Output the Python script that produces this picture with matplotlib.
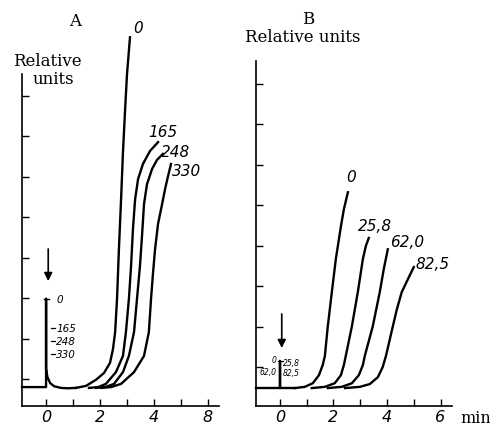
import numpy as np
import matplotlib
matplotlib.use('Agg')
import matplotlib.pyplot as plt

# panel A: curves (time in min, relative units)
a_names = ['0', '165', '248', '330']
a_x = [
    [1.11, 1.48, 1.85, 2.15, 2.37, 2.48, 2.56, 2.63, 2.70, 2.78, 2.85, 2.93, 3.00, 3.11],
    [1.59, 1.93, 2.22, 2.59, 2.85, 2.96, 3.07, 3.15, 3.22, 3.30, 3.41, 3.59, 3.85, 4.15],
    [1.85, 2.19, 2.52, 2.85, 3.07, 3.26, 3.37, 3.48, 3.56, 3.63, 3.74, 3.93, 4.11, 4.33],
    [2.04, 2.41, 2.78, 3.26, 3.63, 3.81, 3.89, 3.96, 4.04, 4.15, 4.30, 4.41, 4.52, 4.63],
]
a_y = [
    [0.78, 0.83, 0.98, 1.15, 1.40, 1.74, 2.16, 2.98, 4.21, 5.44, 6.60, 7.67, 8.53, 9.44],
    [0.78, 0.80, 0.88, 1.17, 1.57, 2.16, 2.98, 3.79, 4.70, 5.44, 5.94, 6.31, 6.63, 6.85],
    [0.78, 0.80, 0.88, 1.17, 1.57, 2.16, 2.98, 3.79, 4.58, 5.32, 5.81, 6.19, 6.41, 6.56],
    [0.78, 0.80, 0.88, 1.17, 1.57, 2.16, 2.98, 3.59, 4.21, 4.83, 5.32, 5.69, 6.01, 6.31],
]
# baseline, injection spike and the dip after it
a_base_x = [-0.89, 0.0, 0.0, 0.0, 0.05, 0.15, 0.3, 0.55, 0.8, 1.11]
a_base_y = [0.80, 0.80, 2.98, 1.25, 1.05, 0.90, 0.82, 0.78, 0.77, 0.78]
a_spike_labels = ['0', '165', '248', '330']
a_spike_y = [2.98, 2.26, 1.94, 1.62]
a_label_pos = [(3.41, 9.69), (4.33, 7.12), (4.81, 6.63), (5.19, 6.14)]
a_tick_labels = ['0', '2', '4', '8']

# panel B
b_names = ['0', '25,8', '62,0', '82,5']
b_x = [
    [0.56, 0.93, 1.23, 1.46, 1.60, 1.68, 1.79, 1.94, 2.09, 2.28, 2.39, 2.54],
    [1.19, 1.68, 2.05, 2.28, 2.39, 2.46, 2.69, 2.91, 3.10, 3.21, 3.32],
    [1.79, 2.31, 2.69, 2.95, 3.10, 3.17, 3.47, 3.73, 3.88, 4.03],
    [2.43, 2.99, 3.36, 3.66, 3.84, 3.96, 4.22, 4.37, 4.55, 4.78, 5.00],
]
b_y = [
    [0.48, 0.51, 0.60, 0.80, 1.05, 1.27, 2.01, 2.85, 3.67, 4.48, 4.90, 5.32],
    [0.48, 0.51, 0.60, 0.80, 1.05, 1.27, 2.01, 2.85, 3.67, 3.99, 4.19],
    [0.48, 0.51, 0.60, 0.80, 1.05, 1.27, 2.01, 2.85, 3.42, 3.91],
    [0.48, 0.51, 0.58, 0.75, 1.00, 1.27, 2.01, 2.43, 2.85, 3.17, 3.47],
]
b_base_x = [-0.90, 0.0, 0.0, 0.0, 0.56]
b_base_y = [0.48, 0.48, 1.15, 0.48, 0.48]
b_label_pos = [(2.65, 5.70), (3.55, 4.50), (4.75, 4.10), (5.70, 3.55)]
b_tick_labels = ['0', '2', '4', '6']

LW = 1.7
ital = dict(style='italic', family='DejaVu Sans')


def setup_axes(ax, xlim, ylim, ticklabels):
    ax.set_xlim(*xlim)
    ax.set_ylim(*ylim)
    for s in ['top', 'right']:
        ax.spines[s].set_visible(False)
    for s in ['left', 'bottom']:
        ax.spines[s].set_linewidth(1.2)
    ax.set_xticks(range(7))
    ax.set_xticklabels(['' if i % 2 else ticklabels[i // 2] for i in range(7)],
                       fontsize=11.5, **ital)
    ax.set_yticks(range(1, 9))
    ax.set_yticklabels([])
    ax.tick_params(direction='in', length=5, width=1.0, pad=2)


fig = plt.figure(figsize=(4.9, 4.31), dpi=100)

# ---- panel A
ax = fig.add_axes([0.045, 0.0557, 0.402, 0.770])
setup_axes(ax, (-0.89, 6.41), (0.333, 8.53), a_tick_labels)
ax.plot(a_base_x, a_base_y, color='black', lw=LW, clip_on=False)
for xs, ys in zip(a_x, a_y):
    ax.plot(xs, ys, color='black', lw=LW, clip_on=False)
for name, (lx, ly) in zip(a_names, a_label_pos):
    ax.text(lx, ly, name, fontsize=11, ha='center', va='center', **ital)
# spike marks
ax.plot([-0.07, 0.12], [2.98, 2.98], color='black', lw=1.0)
for lab, yy in zip(a_spike_labels, a_spike_y):
    if lab != '0':
        ax.plot([0.17, 0.32], [yy, yy], color='black', lw=0.9)
    ax.text(0.38, yy, lab, fontsize=7.5, va='center', **ital)
ax.annotate('', xy=(0.08, 3.35), xytext=(0.08, 4.28),
            arrowprops=dict(arrowstyle='-|>', color='black', lw=1.2, mutation_scale=12))
fig.text(75 / 490, 1 - 21 / 431, 'A', fontsize=12, family='DejaVu Serif', ha='center', va='center')
fig.text(47 / 490, 1 - 61 / 431, 'Relative', fontsize=12, family='DejaVu Serif', ha='center', va='center')
fig.text(53 / 490, 1 - 79 / 431, 'units', fontsize=12, family='DejaVu Serif', ha='center', va='center')

# ---- panel B
ax = fig.add_axes([0.522, 0.0557, 0.400, 0.800])
setup_axes(ax, (-0.90, 6.42), (0.037, 8.56), b_tick_labels)
ax.plot(b_base_x, b_base_y, color='black', lw=LW, clip_on=False)
for xs, ys in zip(b_x, b_y):
    ax.plot(xs, ys, color='black', lw=LW, clip_on=False)
for name, (lx, ly) in zip(b_names, b_label_pos):
    ax.text(lx, ly, name, fontsize=11, ha='center', va='center', **ital)
ax.plot([-0.07, 0.1], [1.15, 1.15], color='black', lw=0.9)
ax.text(-0.12, 1.18, '0', fontsize=5.5, ha='right', va='center', **ital)
ax.text(0.12, 1.10, '25,8', fontsize=5.5, ha='left', va='center', **ital)
ax.text(-0.12, 0.90, '62,0', fontsize=5.5, ha='right', va='center', **ital)
ax.text(0.12, 0.86, '82,5', fontsize=5.5, ha='left', va='center', **ital)
ax.annotate('', xy=(0.07, 1.40), xytext=(0.07, 2.38),
            arrowprops=dict(arrowstyle='-|>', color='black', lw=1.2, mutation_scale=12))
fig.text(308 / 490, 1 - 20 / 431, 'B', fontsize=12, family='DejaVu Serif', ha='center', va='center')
fig.text(303 / 490, 1 - 37 / 431, 'Relative units', fontsize=12, family='DejaVu Serif', ha='center', va='center')
fig.text(476 / 490, 1 - 419 / 431, 'min', fontsize=11.5, family='DejaVu Serif', ha='center', va='center')

fig.savefig('out.png', dpi=100)
